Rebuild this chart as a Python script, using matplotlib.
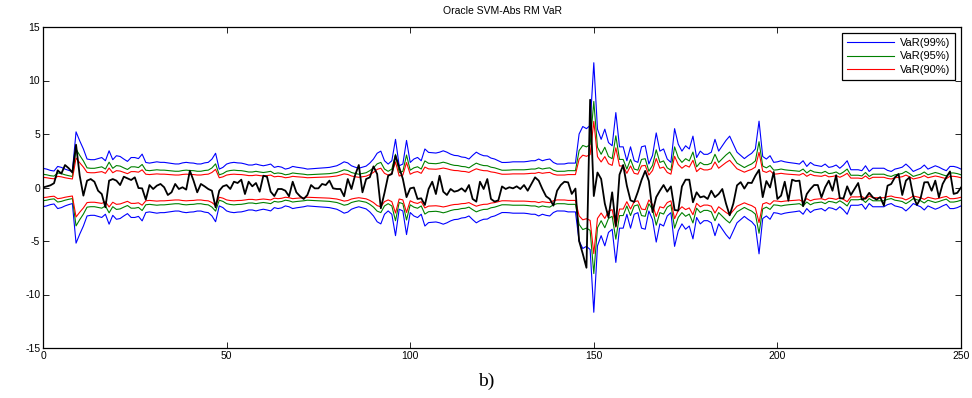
import numpy as np
import matplotlib
matplotlib.use("Agg")
import matplotlib.pyplot as plt

# returns (black line), t = 0..250
returns = [
    0.0, 0.1, 0.2, 0.4, 1.6, 1.3, 2.1, 1.8, 1.4, 4.0,
    1.1, -0.76, 0.64, 0.79, 0.54, -0.3, -0.61, -1.85, 0.64, 0.79,
    0.64, 0.23, 1.01, 0.85, 0.7, 0.95, -0.05, -0.08, -1.13, 0.23,
    -0.14, 0.17, 0.33, 0.02, -0.7, -0.45, 0.33, -0.14, 0.02, -0.2,
    1.57, 0.64, -0.45, 0.33, 0.11, -0.14, -0.3, -1.85, -0.3, 0.11,
    0.23, -0.14, 0.54, 0.42, 0.73, -0.61, 0.54, 0.11, 0.42, -0.39,
    1.1, 1.01, -0.39, -0.8, -0.14, -0.14, -0.3, -0.82, 0.54, -0.45,
    -0.82, -1.07, -0.7, 0.23, -0.08, -0.08, 0.33, 0.23, 0.64, -0.08,
    -0.14, -0.14, -0.82, 0.79, -0.14, 1.16, 2.1, -0.45, 0.79, 0.95,
    1.97, 1.26, -1.94, -0.5, 1.1, 1.26, 2.97, 1.88, 0.8, -0.9,
    -0.08, 0.0, -1.07, -1.01, -1.63, -0.14, 0.54, -0.61, 1.1, -0.39,
    -0.7, -0.14, -0.39, -0.3, -0.08, -0.39, 0.23, -1.07, -1.32, 0.54,
    -0.14, 0.79, -1.07, -1.32, -1.2, 0.1, -0.14, 0.02, -0.08, 0.11,
    -0.14, 0.23, -0.3, 0.33, 0.95, 0.64, -0.14, -0.82, -1.07, -1.69,
    -0.3, 0.23, 0.54, 0.48, -0.6, -0.1, -5.0, -6.2, -7.5, 8.2,
    -0.8, 1.4, 0.8, -1.5, -2.8, -0.45, -3.6, 1.2, 2.1, 0.17,
    -1.2, -1.35, -0.4, 0.7, 1.55, 0.6, -2.3, -0.9, -0.3, 0.23,
    -0.39, 0.1, -2.1, -2.16, 0.1, 0.73, 0.73, -1.38, -0.45, -0.92,
    -0.82, -1.07, -0.3, -0.9, -0.61, -0.14, -1.5, -2.6, -1.5, 0.2,
    0.5, -0.1, 0.45, 0.42, 1.1, 1.65, -0.9, 0.6, 0.0, 1.45,
    -1.07, -0.76, 0.54, -1.23, 0.73, 0.6, 0.64, -1.75, -0.61, -0.14,
    0.23, 0.23, -0.92, 0.02, 0.64, -0.3, 1.15, -1.01, -1.01, 0.11,
    -0.7, -0.14, 0.42, -1.13, -1.0, -0.5, -0.92, -1.13, -0.9, -1.69,
    0.17, 0.33, 0.95, 1.26, -0.7, 0.64, 0.95, -0.82, -1.63, -1.0,
    0.48, 0.5, -0.3, 0.64, -0.92, 0.33, 0.95, 1.5, -0.6, -0.5,
    0.0,
]

# upper VaR(99%) band (lower band is its mirror)
var99 = [
    1.79, 1.72, 1.6, 1.54, 1.97, 1.88, 1.72, 1.6, 1.5, 5.2,
    4.36, 3.6, 2.66, 2.6, 2.6, 2.7, 2.8, 2.5, 3.43, 2.6,
    2.97, 2.9, 2.66, 2.44, 2.8, 2.8, 2.7, 3.12, 2.34, 2.28,
    2.34, 2.4, 2.35, 2.35, 2.3, 2.25, 2.2, 2.2, 2.3, 2.35,
    2.3, 2.28, 2.2, 2.2, 2.3, 2.35, 2.65, 3.2, 1.72, 1.88,
    2.19, 2.3, 2.35, 2.3, 2.28, 2.2, 2.1, 2.1, 2.19, 2.1,
    2.03, 2.1, 2.19, 1.88, 1.97, 1.9, 1.72, 1.8, 1.97, 1.9,
    1.85, 1.8, 1.72, 1.75, 1.78, 1.8, 1.82, 1.85, 1.88, 1.95,
    2.03, 2.2, 2.4, 2.3, 2.03, 1.9, 1.8, 1.9, 2.0, 2.28,
    2.66, 3.2, 3.4, 2.5, 2.19, 2.5, 4.5, 2.03, 2.19, 4.4,
    2.34, 2.66, 2.81, 2.5, 3.6, 3.28, 3.25, 3.22, 3.3, 3.43,
    3.3, 3.12, 3.0, 2.97, 2.85, 2.81, 2.66, 3.0, 3.3, 3.1,
    2.97, 2.95, 2.75, 2.66, 2.5, 2.34, 2.34, 2.36, 2.4, 2.4,
    2.4, 2.4, 2.44, 2.5, 2.5, 2.66, 2.5, 2.6, 2.66, 2.34,
    2.19, 2.2, 2.2, 2.28, 2.28, 2.28, 5.0, 5.7, 5.5, 5.8,
    11.66, 5.45, 4.5, 5.45, 4.2, 3.9, 7.0, 3.8, 3.8, 2.5,
    3.8, 2.5, 2.35, 3.8, 3.9, 2.2, 3.0, 5.1, 3.4, 3.6,
    2.66, 2.35, 5.5, 4.05, 3.4, 3.9, 3.6, 4.8, 2.8, 3.4,
    3.1, 3.1, 3.3, 4.5, 3.4, 3.9, 4.4, 4.8, 4.05, 3.3,
    3.0, 2.7, 2.97, 3.2, 3.6, 6.2, 2.9, 2.66, 2.97, 2.35,
    2.4, 2.5, 2.4, 2.34, 2.3, 2.25, 2.19, 2.5, 1.97, 2.34,
    2.1, 2.03, 1.97, 2.19, 1.88, 1.95, 2.1, 1.8, 2.1, 2.5,
    1.66, 1.66, 1.66, 1.57, 2.03, 1.5, 1.8, 1.8, 1.8, 1.8,
    1.6, 1.5, 1.72, 1.8, 1.9, 2.19, 1.88, 1.5, 1.66, 1.8,
    2.1, 1.72, 1.88, 2.03, 1.9, 1.72, 1.57, 1.97, 1.97, 1.88,
    1.72,
]

# band width of the 95% and 90% levels relative to the 99% band
ratio95 = 0.69
ratio90 = 0.53

labels = ["VaR(99%)", "VaR(95%)", "VaR(90%)"]
colors = ["#0000ff", "#008000", "#ff0000"]

plt.rcParams["font.family"] = ["Liberation Sans", "DejaVu Sans"]
plt.rcParams["axes.unicode_minus"] = False

t = np.arange(len(returns))
v99 = np.array(var99)
bands = [v99, v99 * ratio95, v99 * ratio90]

fig = plt.figure(figsize=(9.72, 3.98), dpi=100)
ax = fig.add_axes([43 / 972, 50 / 398, 918 / 972, 321 / 398])

for band, lab, col in zip(bands, labels, colors):
    ax.plot(t, band, color=col, lw=0.8, label=lab)
    ax.plot(t, -band, color=col, lw=0.8)
ax.plot(t, returns, color="black", lw=1.3)

ax.set_xlim(0, 250)
ax.set_ylim(-15, 15)
ax.set_xticks(np.arange(0, 251, 50))
ax.set_yticks(np.arange(-15, 16, 5))
ax.tick_params(direction="in", top=True, right=True, length=4, width=0.6,
               labelsize=7.5, pad=2)
for s in ax.spines.values():
    s.set_linewidth(0.9)

ax.set_title("Oracle SVM-Abs RM VaR", fontsize=7.5, pad=9)

leg = ax.legend(loc="upper right", fontsize=8, handlelength=4.2,
                fancybox=False, framealpha=1, edgecolor="black",
                borderaxespad=0.5, labelspacing=0.3, handletextpad=0.5,
                borderpad=0.5)
leg.get_frame().set_linewidth(0.9)

fig.text(0.5, 0.02, "b)", family="Liberation Serif", fontsize=14,
         ha="center", va="bottom")

fig.savefig("out.png", dpi=100)
